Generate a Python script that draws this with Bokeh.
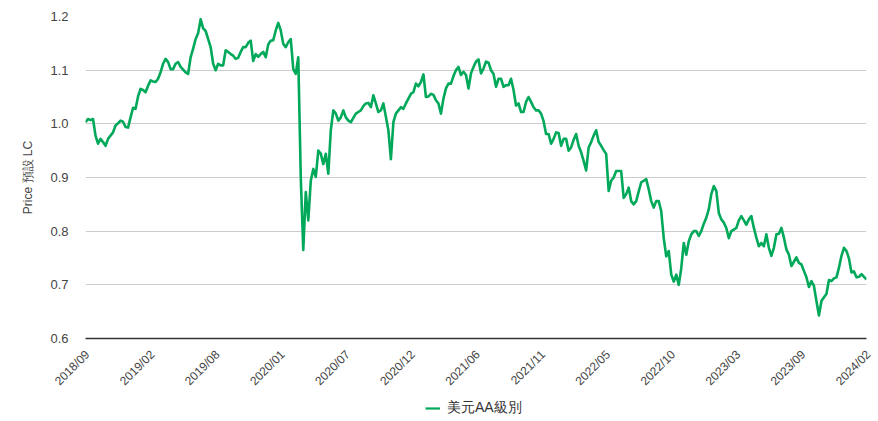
from bokeh.plotting import figure
from bokeh.models import Legend, LegendItem, FixedTicker, Range1d
from bokeh.core.properties import value
from bokeh.embed import file_html
from bokeh.resources import INLINE

# Tick labels (category axis, evenly spaced)
x_labels = ["2018/09", "2019/02", "2019/08", "2020/01", "2020/07", "2020/12",
            "2021/06", "2021/11", "2022/05", "2022/10", "2023/03", "2023/09", "2024/02"]
y_ticks = [0.6, 0.7, 0.8, 0.9, 1.0, 1.1, 1.2]
y_labels = ["0.6", "0.7", "0.8", "0.9", "1.0", "1.1", "1.2"]
series_name = "美元AA級別"

# Price series
seg1 = [1.003, 1.009, 1.007, 1.009, 0.978, 0.963, 0.972, 0.966, 0.959, 0.972,
        0.978, 0.984, 0.997, 1.001, 1.006, 1.004, 0.994, 0.993, 1.012, 1.030,
        1.028, 1.051, 1.065, 1.063, 1.059, 1.071, 1.081, 1.079, 1.078, 1.084,
        1.096, 1.112, 1.121, 1.115, 1.102, 1.102, 1.112, 1.115, 1.106, 1.101,
        1.096, 1.093, 1.124, 1.140, 1.158, 1.169, 1.195, 1.178, 1.173, 1.158,
        1.143, 1.112, 1.100]
seg2 = [1.112, 1.109, 1.109, 1.137, 1.134, 1.130, 1.127, 1.121, 1.123, 1.134,
        1.143, 1.143, 1.151, 1.155, 1.117, 1.130, 1.125, 1.130, 1.134, 1.124,
        1.148, 1.155, 1.156, 1.174, 1.188, 1.174, 1.149, 1.143, 1.152, 1.158,
        1.102, 1.093, 1.124, 0.900, 0.765, 0.873, 0.820, 0.894, 0.916, 0.901,
        0.950, 0.944, 0.925, 0.944, 0.907, 0.988, 1.025, 1.019, 1.006, 1.012,
        1.025, 1.012]
seg3 = [1.006, 1.003, 1.011, 1.019, 1.022, 1.025, 1.033, 1.038, 1.039, 1.031,
        1.053, 1.038, 1.022, 1.025, 1.038, 1.013, 0.988, 0.934, 1.003, 1.019,
        1.025, 1.031, 1.028, 1.038, 1.047, 1.056, 1.059, 1.075, 1.070, 1.078,
        1.092, 1.050, 1.051, 1.056, 1.054, 1.044, 1.038, 1.019, 1.047, 1.066,
        1.075, 1.075, 1.089, 1.100, 1.106, 1.091, 1.097, 1.091, 1.066, 1.094,
        1.106, 1.116]
seg4 = [1.120, 1.094, 1.103, 1.116, 1.114, 1.100, 1.093, 1.069, 1.084, 1.084,
        1.069, 1.072, 1.072, 1.084, 1.063, 1.034, 1.038, 1.022, 1.022, 1.041,
        1.050, 1.041, 1.031, 1.025, 1.025, 1.019, 1.005, 0.981, 0.981, 0.963,
        0.972, 0.984, 0.983, 0.959, 0.972, 0.972, 0.950, 0.956, 0.970, 0.981,
        0.959, 0.947, 0.931, 0.913, 0.956, 0.966, 0.978, 0.988, 0.966, 0.959,
        0.951, 0.944]
seg5 = [0.875, 0.894, 0.900, 0.912, 0.912, 0.912, 0.862, 0.869, 0.881, 0.856,
        0.850, 0.856, 0.874, 0.891, 0.894, 0.897, 0.878, 0.856, 0.844, 0.856,
        0.856, 0.837, 0.787, 0.753, 0.763, 0.719, 0.706, 0.719, 0.700, 0.731,
        0.778, 0.756, 0.781, 0.794, 0.800, 0.800, 0.791, 0.800, 0.814, 0.825,
        0.841, 0.869, 0.884, 0.875, 0.834, 0.822, 0.816, 0.806, 0.787, 0.800,
        0.803, 0.806]
seg6 = [0.820, 0.828, 0.820, 0.812, 0.822, 0.828, 0.806, 0.788, 0.772, 0.778,
        0.772, 0.794, 0.769, 0.754, 0.769, 0.794, 0.795, 0.806, 0.788, 0.766,
        0.756, 0.735, 0.743, 0.751, 0.741, 0.738, 0.726, 0.714, 0.696, 0.707,
        0.698, 0.670, 0.643, 0.670, 0.677, 0.683, 0.709, 0.707, 0.712, 0.714,
        0.732, 0.754, 0.769, 0.763, 0.749, 0.723, 0.725, 0.714, 0.715, 0.720,
        0.715, 0.710]
prices = seg1 + seg2 + seg3 + seg4 + seg5 + seg6
idx = list(range(len(prices)))

n = len(prices) - 1
step = n / (len(x_labels) - 1)
tick_pos = [round(i * step) for i in range(len(x_labels))]

LINE_COLOR = "#00a85a"
LEFT, RIGHT, TOP = 85, 10, 16
FRAME_W, FRAME_H = 781, 322
BOTTOM = 8
TOTAL_W = LEFT + FRAME_W + RIGHT
UPPER_H = TOP + FRAME_H + BOTTOM
LOWER_H = 421 - UPPER_H

# ---------- main chart ----------
p = figure(frame_width=FRAME_W, frame_height=FRAME_H,
           x_range=Range1d(0, n), y_range=Range1d(0.6, 1.2),
           output_backend="svg", toolbar_location=None,
           min_border_left=LEFT, min_border_right=RIGHT, min_border_top=TOP,
           min_border_bottom=BOTTOM)
p.outline_line_color = None
p.background_fill_color = "white"
p.border_fill_color = "white"

p.line(idx, prices, line_color=LINE_COLOR, line_width=2.6, line_join="round")

p.yaxis.ticker = FixedTicker(ticks=y_ticks)
p.yaxis.major_label_overrides = {t: l for t, l in zip(y_ticks, y_labels)}
p.yaxis.axis_line_color = None
p.yaxis.major_tick_line_color = None
p.yaxis.minor_tick_line_color = None
p.yaxis.major_label_text_font = "Liberation Sans"
p.yaxis.major_label_text_font_size = "13px"
p.yaxis.major_label_text_color = "#444444"
p.yaxis.major_label_standoff = 11
p.yaxis.axis_label = "Price 預設 LC"
p.yaxis.axis_label_text_font = "Liberation Sans"
p.yaxis.axis_label_text_font_style = "normal"
p.yaxis.axis_label_text_font_size = "12px"
p.yaxis.axis_label_text_color = "#444444"
p.yaxis.axis_label_standoff = 12

# x axis: the dark base line; its date labels are set in the strip below
p.xaxis.ticker = FixedTicker(ticks=tick_pos)
p.xaxis.axis_line_color = "#333333"
p.xaxis.axis_line_width = 1.5
p.xaxis.major_tick_line_color = None
p.xaxis.major_tick_out = 0
p.xaxis.major_tick_in = 0
p.xaxis.minor_tick_line_color = None
p.xaxis.minor_tick_out = 0
p.xaxis.minor_tick_in = 0
p.xaxis.major_label_text_color = None

p.xgrid.visible = False
p.ygrid.ticker = FixedTicker(ticks=y_ticks)
p.ygrid.grid_line_color = "#cccccc"
p.ygrid.grid_line_width = 1

# ---------- lower strip: rotated date labels + legend ----------
px_per_idx = FRAME_W / n
q = figure(width=TOTAL_W, height=LOWER_H,
           x_range=Range1d(-LEFT / px_per_idx, n + RIGHT / px_per_idx),
           y_range=Range1d(0, LOWER_H),
           x_axis_type=None, y_axis_type=None,
           output_backend="svg", toolbar_location=None, min_border=0)
q.outline_line_color = None
q.background_fill_color = "white"
q.border_fill_color = "white"

label_y = LOWER_H - (352 - UPPER_H)
q.text(x=tick_pos, y=[label_y] * len(tick_pos), text=x_labels,
       angle=0.785398, text_align="right", text_baseline="middle",
       x_offset=2, text_font=value("Liberation Sans"),
       text_font_size="12px", text_color="#444444")

# legend swatch renderer: same series style, placed outside the strip's visible range
r_leg = q.line(x=[0, 1], y=[-LOWER_H, -LOWER_H], line_color=LINE_COLOR, line_width=2.2)
legend = Legend(items=[LegendItem(label=series_name, renderers=[r_leg])],
                orientation="horizontal", location=(425, 4),
                label_text_font="Liberation Sans", label_text_font_size="14px",
                label_text_color="#333333", glyph_width=15, glyph_height=16,
                border_line_color=None, background_fill_alpha=0,
                padding=0, margin=0, label_standoff=7, label_height=16)
q.add_layout(legend)

open("out.html", "w").write(file_html([p, q], INLINE))
